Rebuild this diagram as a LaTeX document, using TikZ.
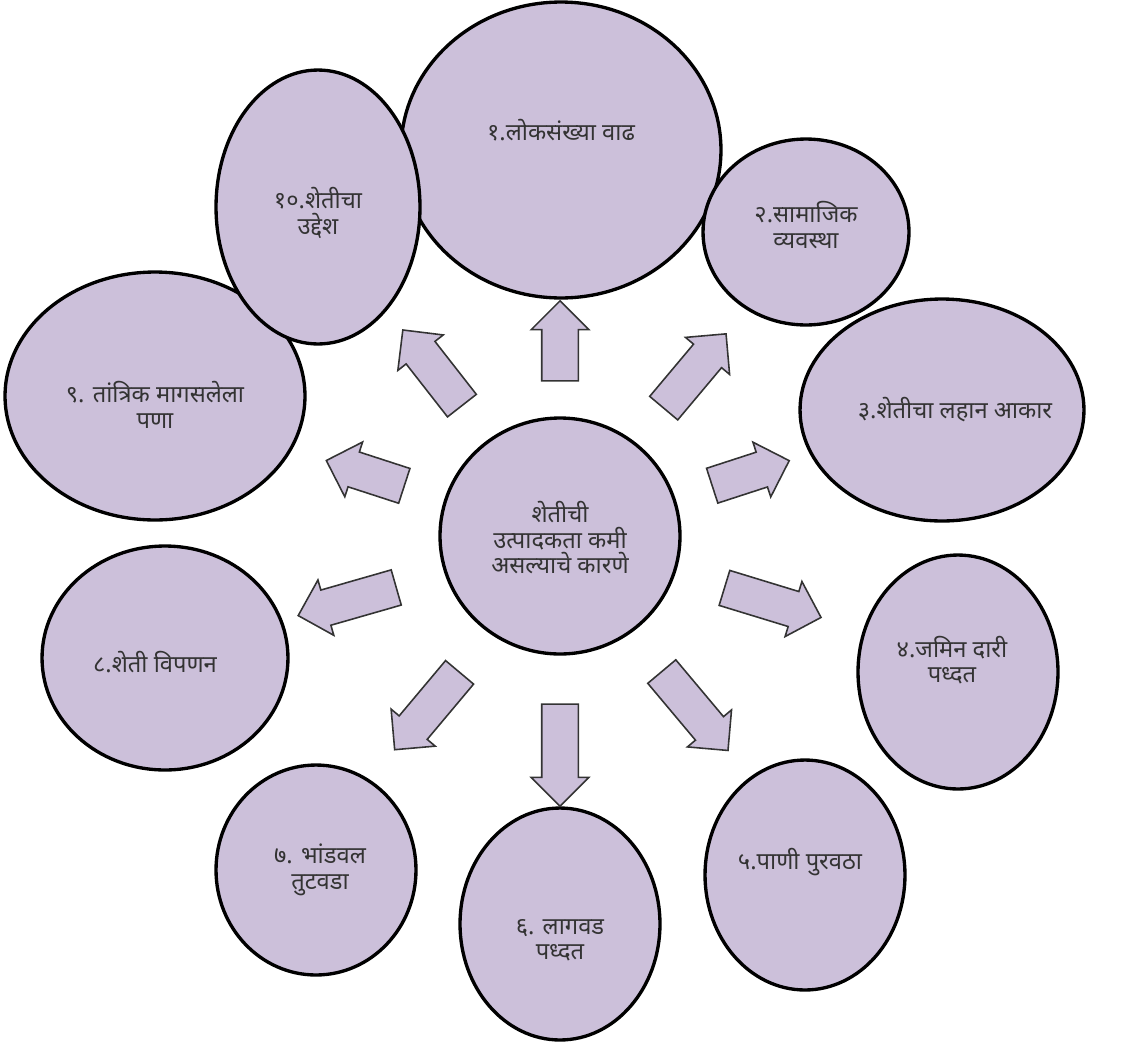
\documentclass[tikz,border=0pt]{standalone}
\usepackage{fontspec}
\newfontfamily\marathi[Script=Devanagari]{Noto Sans}
\usetikzlibrary{shapes.geometric,shapes.arrows}
\definecolor{lilac}{RGB}{204,192,218}

\begin{document}
\begin{tikzpicture}[x=0.02cm,y=-0.02cm,
            bubble/.style={ellipse, draw=black, fill=lilac, line width=1.9pt, inner sep=0pt},
            captext/.style={align=center, font=\marathi\fontsize{13.5}{14.5}\selectfont, text=black!80},
            fatarrow/.style={single arrow, draw=black!80, fill=lilac, line width=0.9pt, inner xsep=0pt, inner ysep=0.35cm, single arrow head extend=0.21cm},
        ]
        \useasboundingbox (0,0) rectangle (1125,1045);

        % causes
        \node[bubble, minimum width=6.4cm, minimum height=5.92cm] (e1) at (561,150) {};
        \node[bubble, minimum width=4.12cm, minimum height=3.72cm] (e2) at (806,232) {};
        \node[bubble, minimum width=5.68cm, minimum height=4.44cm] (e3) at (942,410) {};
        \node[bubble, minimum width=4.0cm, minimum height=4.68cm] (e4) at (958,672) {};
        \node[bubble, minimum width=4.0cm, minimum height=4.6cm] (e5) at (805,875) {};
        \node[bubble, minimum width=4.0cm, minimum height=4.64cm] (e6) at (560,924) {};
        \node[bubble, minimum width=4.0cm, minimum height=4.2cm] (e7) at (316,870) {};
        \node[bubble, minimum width=4.92cm, minimum height=4.48cm] (e8) at (165,658) {};
        \node[bubble, minimum width=6.0cm, minimum height=4.96cm] (e9) at (155,396) {};
        \node[bubble, minimum width=4.08cm, minimum height=5.48cm] (e10) at (318,207) {};
        \node[bubble, minimum width=4.8cm, minimum height=4.72cm] (centre) at (560,536) {};

        \node[captext] (t1) at (561,130) {१.लोकसंख्या वाढ};
        \node[captext] (t2) at (806,225) {२.सामाजिक\\व्यवस्था};
        \node[captext] (t3) at (955,410) {३.शेतीचा लहान आकार};
        \node[captext] (t4) at (952,660) {४.जमिन दारी\\पध्दत};
        \node[captext] (t5) at (800,862) {५.पाणी पुरवठा};
        \node[captext] (t6) at (560,940) {६. लागवड\\पध्दत};
        \node[captext] (t7) at (320,870) {७. भांडवल\\तुटवडा};
        \node[captext] (t8) at (155,662) {८.शेती विपणन};
        \node[captext] (t9) at (155,405) {९. तांत्रिक मागसलेला\\पणा};
        \node[captext] (t10) at (318,213) {१०.शेतीचा\\उद्देश};
        \node[captext] (tc) at (560,538) {शेतीची\\उत्पादकता कमी\\असल्याचे कारणे};

        % arrows out of the centre
        \node[fatarrow, minimum height=1.6cm, rotate=90] (a1) at (560,350) {};
        \node[fatarrow, minimum height=1.94cm, rotate=50] (a2) at (689,378) {};
        \node[fatarrow, minimum height=1.62cm, rotate=18] (a3) at (742,476) {};
        \node[fatarrow, minimum height=2.02cm, rotate=-17] (a4) at (764,600) {};
        \node[fatarrow, minimum height=2.06cm, rotate=-50] (a5) at (689,704) {};
        \node[fatarrow, minimum height=2.04cm, rotate=-90] (a6) at (560,746) {};
        \node[fatarrow, minimum height=2.02cm, rotate=230] (a7) at (433,704) {};
        \node[fatarrow, minimum height=2.04cm, rotate=196] (a8) at (356,599) {};
        \node[fatarrow, minimum height=1.64cm, rotate=162] (a9) at (374,476) {};
        \node[fatarrow, minimum height=1.92cm, rotate=128] (a10) at (438,375) {};

    \end{tikzpicture}
\end{document}
